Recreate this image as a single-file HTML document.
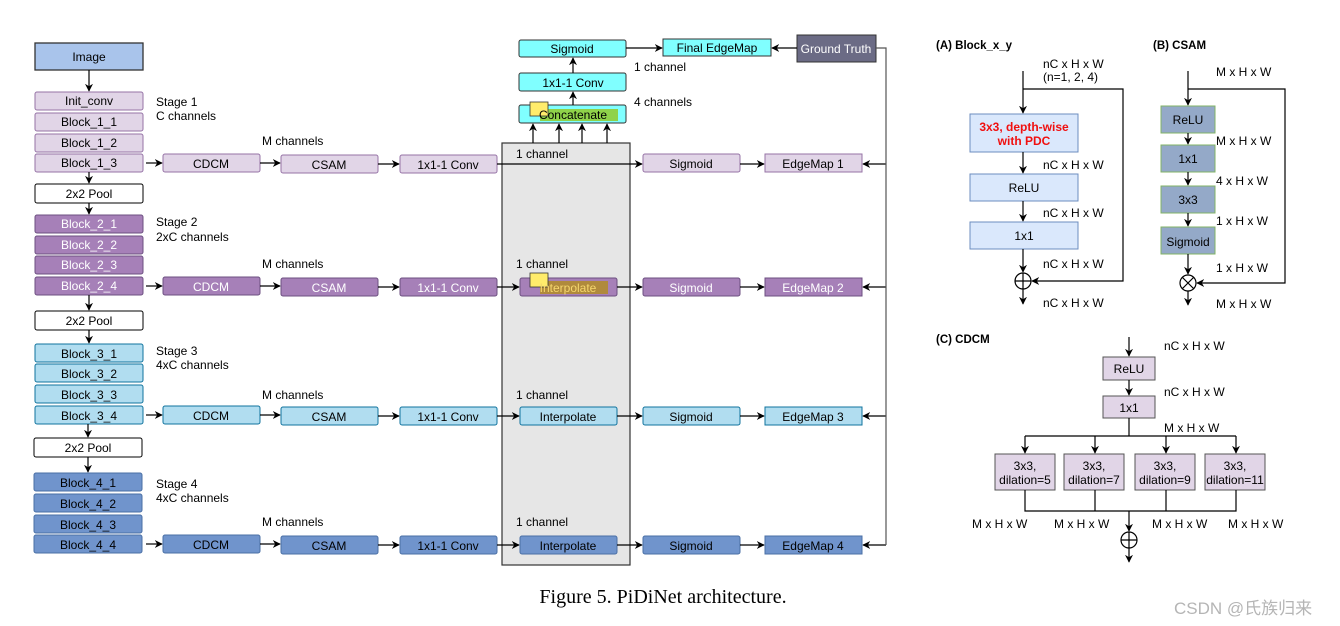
<!DOCTYPE html>
<html><head><meta charset="utf-8"><style>
body{margin:0;background:#fff;}
svg{display:block;font-family:"Liberation Sans",Arial,sans-serif;}
text{font-size:12px;fill:#000;}
.c{text-anchor:middle;}
.w{fill:#fff;}
</style></head><body>
<svg width="1340" height="626" viewBox="0 0 1340 626">
<defs>
<marker id="a" viewBox="0 0 10 10" refX="9" refY="5" markerWidth="8" markerHeight="8" orient="auto-start-reverse" markerUnits="userSpaceOnUse"><path d="M0,0 L10,5 L0,10 L3,5 z" fill="#000"/></marker>
</defs>
<g stroke="#000" stroke-width="1.2" fill="none">
<rect x="502" y="143" width="128" height="422" fill="#e6e6e6" stroke="#333"/>
</g>
<rect x="35" y="43" width="108" height="27" fill="#a9c4eb" stroke="#333" stroke-width="1.3"/>
<text x="89" y="61" class="c">Image</text>
<g stroke="#9673a6" fill="#e1d5e7">
<rect x="35" y="92" width="108" height="18" rx="2"/><rect x="35" y="113" width="108" height="18" rx="2"/><rect x="35" y="134" width="108" height="18" rx="2"/><rect x="35" y="154" width="108" height="18" rx="2"/>
<rect x="163" y="154" width="97" height="18" rx="2"/><rect x="281" y="155" width="97" height="18" rx="2"/><rect x="400" y="155" width="97" height="18" rx="2"/><rect x="643" y="154" width="97" height="18" rx="2"/><rect x="765" y="154" width="97" height="18"/>
</g>
<g stroke="#6c4f80" fill="#a680b8">
<rect x="35" y="215" width="108" height="18" rx="2"/><rect x="35" y="236" width="108" height="18" rx="2"/><rect x="35" y="256" width="108" height="18" rx="2"/><rect x="35" y="277" width="108" height="18" rx="2"/>
<rect x="163" y="277" width="97" height="18" rx="2"/><rect x="281" y="278" width="97" height="18" rx="2"/><rect x="400" y="278" width="97" height="18" rx="2"/><rect x="520" y="278" width="97" height="18" rx="2"/><rect x="643" y="278" width="97" height="18" rx="2"/><rect x="765" y="278" width="97" height="18"/>
</g>
<g stroke="#10739e" fill="#b1ddf0">
<rect x="35" y="344" width="108" height="18" rx="2"/><rect x="35" y="364" width="108" height="18" rx="2"/><rect x="35" y="385" width="108" height="18" rx="2"/><rect x="35" y="406" width="108" height="18" rx="2"/>
<rect x="163" y="406" width="97" height="18" rx="2"/><rect x="281" y="407" width="97" height="18" rx="2"/><rect x="400" y="407" width="97" height="18" rx="2"/><rect x="520" y="407" width="97" height="18" rx="2"/><rect x="643" y="407" width="97" height="18" rx="2"/><rect x="765" y="407" width="97" height="18"/>
</g>
<g stroke="#4a6fa5" fill="#7094cc">
<rect x="34" y="473" width="108" height="18" rx="2"/><rect x="34" y="494" width="108" height="18" rx="2"/><rect x="34" y="515" width="108" height="18" rx="2"/><rect x="34" y="535" width="108" height="18" rx="2"/>
<rect x="163" y="535" width="97" height="18" rx="2"/><rect x="281" y="536" width="97" height="18" rx="2"/><rect x="400" y="536" width="97" height="18" rx="2"/><rect x="520" y="536" width="97" height="18" rx="2"/><rect x="643" y="536" width="97" height="18" rx="2"/><rect x="765" y="536" width="97" height="18"/>
</g>
<g stroke="#000" fill="#fff">
<rect x="35" y="184" width="108" height="19" rx="2"/><rect x="35" y="311" width="108" height="19" rx="2"/><rect x="34" y="438" width="108" height="19" rx="2"/>
</g>
<g stroke="#333" fill="#80ffff">
<rect x="519" y="40" width="107" height="17" rx="2"/><rect x="519" y="73" width="107" height="18" rx="2"/><rect x="519" y="105" width="107" height="18" rx="2"/><rect x="663" y="39" width="108" height="17"/>
</g>
<rect x="540" y="109" width="78" height="12" fill="#8fd24a"/>
<rect x="530" y="102" width="18" height="14" fill="#ffec6b" stroke="#333" stroke-width=".8"/>
<rect x="540" y="281" width="68" height="13" fill="#b08a3c"/>
<rect x="530" y="273" width="18" height="14" fill="#ffec6b" stroke="#333" stroke-width=".8"/>
<rect x="797" y="35" width="79" height="27" fill="#6b6b85" stroke="#333"/>
<g stroke="#000" stroke-width="1.2" fill="none" marker-end="url(#a)">
<path d="M89 70V91"/><path d="M89 172V183"/><path d="M89 203V214"/><path d="M89 295V310"/><path d="M89 330V343"/><path d="M88 424V437"/><path d="M88 457V472"/>
<path d="M146 163H162"/><path d="M260 163H280"/><path d="M378 164H399"/><path d="M497 164H642"/><path d="M740 164H764"/>
<path d="M146 286H162"/><path d="M260 286H280"/><path d="M378 287H399"/><path d="M497 287H519"/><path d="M617 287H642"/><path d="M740 287H764"/>
<path d="M146 415H162"/><path d="M260 415H280"/><path d="M378 416H399"/><path d="M497 416H519"/><path d="M617 416H642"/><path d="M740 416H764"/>
<path d="M146 544H162"/><path d="M260 544H280"/><path d="M378 545H399"/><path d="M497 545H519"/><path d="M617 545H642"/><path d="M740 545H764"/>
<path d="M533 143V124"/><path d="M559 143V124"/><path d="M582 143V124"/><path d="M607 143V124"/>
<path d="M573 105V92"/><path d="M573 73V58"/><path d="M626 48H662"/><path d="M797 48H772"/>
<path d="M886 164H863"/><path d="M886 287H863"/><path d="M886 416H863"/><path d="M886 545H863"/>
</g>
<path d="M876 48H886V545" stroke="#555" stroke-width="1.2" fill="none"/>
<g class="c">
<text x="89" y="105" class="c">Init_conv</text><text x="89" y="126" class="c">Block_1_1</text><text x="89" y="147" class="c">Block_1_2</text><text x="89" y="167" class="c">Block_1_3</text>
<text x="89" y="198" class="c">2x2 Pool</text>
<text x="89" y="228" class="c w">Block_2_1</text><text x="89" y="249" class="c w">Block_2_2</text><text x="89" y="269" class="c w">Block_2_3</text><text x="89" y="290" class="c w">Block_2_4</text>
<text x="89" y="325" class="c">2x2 Pool</text>
<text x="89" y="358" class="c">Block_3_1</text><text x="89" y="378" class="c">Block_3_2</text><text x="89" y="399" class="c">Block_3_3</text><text x="89" y="420" class="c">Block_3_4</text>
<text x="88" y="452" class="c">2x2 Pool</text>
<text x="88" y="487" class="c">Block_4_1</text><text x="88" y="508" class="c">Block_4_2</text><text x="88" y="529" class="c">Block_4_3</text><text x="88" y="549" class="c">Block_4_4</text>
</g>
<text x="156" y="106">Stage 1</text><text x="156" y="120">C channels</text>
<text x="156" y="226">Stage 2</text><text x="156" y="241">2xC channels</text>
<text x="156" y="355">Stage 3</text><text x="156" y="369">4xC channels</text>
<text x="156" y="488">Stage 4</text><text x="156" y="502">4xC channels</text>
<text x="262" y="145">M channels</text><text x="262" y="268">M channels</text><text x="262" y="399">M channels</text><text x="262" y="526">M channels</text>
<text x="516" y="158">1 channel</text><text x="516" y="268">1 channel</text><text x="516" y="399">1 channel</text><text x="516" y="526">1 channel</text>
<text x="634" y="71">1 channel</text><text x="634" y="106">4 channels</text>
<text x="211" y="168" class="c">CDCM</text><text x="329" y="169" class="c">CSAM</text><text x="448" y="169" class="c">1x1-1 Conv</text><text x="691" y="168" class="c">Sigmoid</text><text x="813" y="168" class="c">EdgeMap 1</text>
<text x="211" y="291" class="c w">CDCM</text><text x="329" y="292" class="c w">CSAM</text><text x="448" y="292" class="c w">1x1-1 Conv</text><text x="568" y="292" class="c" style="fill:#f5d76e">Interpolate</text><text x="691" y="292" class="c w">Sigmoid</text><text x="813" y="292" class="c w">EdgeMap 2</text>
<text x="211" y="420" class="c">CDCM</text><text x="329" y="421" class="c">CSAM</text><text x="448" y="421" class="c">1x1-1 Conv</text><text x="568" y="421" class="c">Interpolate</text><text x="691" y="421" class="c">Sigmoid</text><text x="813" y="421" class="c">EdgeMap 3</text>
<text x="211" y="549" class="c">CDCM</text><text x="329" y="550" class="c">CSAM</text><text x="448" y="550" class="c">1x1-1 Conv</text><text x="568" y="550" class="c">Interpolate</text><text x="691" y="550" class="c">Sigmoid</text><text x="813" y="550" class="c">EdgeMap 4</text>
<text x="572" y="53" class="c">Sigmoid</text><text x="573" y="87" class="c">1x1-1 Conv</text><text x="573" y="119" class="c">Concatenate</text>
<text x="717" y="52" class="c">Final EdgeMap</text><text x="836" y="53" class="c w">Ground Truth</text>

<text x="936" y="49" style="font-weight:bold;font-size:11.5px">(A) Block_x_y</text>
<g stroke="#6c8ebf" fill="#dae8fc"><rect x="970" y="114" width="108" height="38"/><rect x="970" y="174" width="108" height="27"/><rect x="970" y="222" width="108" height="27"/></g>
<text x="1024" y="131" class="c" style="fill:#f01010;font-weight:bold">3x3, depth-wise</text>
<text x="1024" y="145" class="c" style="fill:#f01010;font-weight:bold">with PDC</text>
<text x="1024" y="192" class="c">ReLU</text><text x="1024" y="240" class="c">1x1</text>
<g stroke="#000" stroke-width="1.2" fill="none">
<circle cx="1023" cy="281" r="8"/><path d="M1015 281H1031M1023 273V289"/>
<path d="M1023 71V113" marker-end="url(#a)"/><path d="M1023 152V173" marker-end="url(#a)"/><path d="M1023 201V221" marker-end="url(#a)"/><path d="M1023 249V272" marker-end="url(#a)"/><path d="M1023 289V304" marker-end="url(#a)"/>
<path d="M1023 89H1123V281H1032" marker-end="url(#a)"/>
</g>
<text x="1043" y="68">nC x H x W</text><text x="1043" y="81">(n=1, 2, 4)</text>
<text x="1043" y="169">nC x H x W</text><text x="1043" y="217">nC x H x W</text><text x="1043" y="268">nC x H x W</text><text x="1043" y="307">nC x H x W</text>
<text x="1153" y="49" style="font-weight:bold;font-size:11.5px">(B) CSAM</text>
<g stroke="#82b366" fill="#94a9c8"><rect x="1161" y="106" width="54" height="27"/><rect x="1161" y="145" width="54" height="27"/><rect x="1161" y="186" width="54" height="27"/><rect x="1161" y="227" width="54" height="27"/></g>
<text x="1188" y="124" class="c">ReLU</text><text x="1188" y="163" class="c">1x1</text><text x="1188" y="204" class="c">3x3</text><text x="1188" y="246" class="c">Sigmoid</text>
<g stroke="#000" stroke-width="1.2" fill="none">
<circle cx="1188" cy="283" r="8"/><path d="M1182 277L1194 289M1194 277L1182 289"/>
<path d="M1188 71V105" marker-end="url(#a)"/><path d="M1188 133V144" marker-end="url(#a)"/><path d="M1188 172V185" marker-end="url(#a)"/><path d="M1188 213V226" marker-end="url(#a)"/><path d="M1188 254V274" marker-end="url(#a)"/><path d="M1188 291V305" marker-end="url(#a)"/>
<path d="M1188 89H1285V283H1197" marker-end="url(#a)"/>
</g>
<text x="1216" y="76">M x H x W</text><text x="1216" y="145">M x H x W</text><text x="1216" y="185">4 x H x W</text><text x="1216" y="225">1 x H x W</text><text x="1216" y="272">1 x H x W</text><text x="1216" y="308">M x H x W</text>
<text x="936" y="343" style="font-weight:bold;font-size:11.5px">(C) CDCM</text>
<g stroke="#555" fill="#e1d5e7"><rect x="1103" y="357" width="52" height="23"/><rect x="1103" y="396" width="52" height="22"/>
<rect x="995" y="454" width="60" height="36"/><rect x="1064" y="454" width="60" height="36"/><rect x="1135" y="454" width="60" height="36"/><rect x="1205" y="454" width="60" height="36"/></g>
<text x="1129" y="373" class="c">ReLU</text><text x="1129" y="412" class="c">1x1</text>
<text x="1025" y="470" class="c">3x3,</text><text x="1025" y="484" class="c">dilation=5</text>
<text x="1094" y="470" class="c">3x3,</text><text x="1094" y="484" class="c">dilation=7</text>
<text x="1165" y="470" class="c">3x3,</text><text x="1165" y="484" class="c">dilation=9</text>
<text x="1235" y="470" class="c">3x3,</text><text x="1235" y="484" class="c">dilation=11</text>
<g stroke="#000" stroke-width="1.2" fill="none">
<path d="M1129 337V356" marker-end="url(#a)"/><path d="M1129 380V395" marker-end="url(#a)"/>
<path d="M1129 418V436M1025 436H1236"/>
<path d="M1025 436V453" marker-end="url(#a)"/><path d="M1095 436V453" marker-end="url(#a)"/><path d="M1166 436V453" marker-end="url(#a)"/><path d="M1236 436V453" marker-end="url(#a)"/>
<path d="M1025 490V511H1236V490M1095 490V511M1166 490V511"/>
<path d="M1129 511V531" marker-end="url(#a)"/>
<circle cx="1129" cy="540" r="8"/><path d="M1121 540H1137M1129 532V548"/>
<path d="M1129 548V562" marker-end="url(#a)"/>
</g>
<text x="1164" y="350">nC x H x W</text><text x="1164" y="396">nC x H x W</text><text x="1164" y="432">M x H x W</text>
<text x="972" y="528">M x H x W</text><text x="1054" y="528">M x H x W</text><text x="1152" y="528">M x H x W</text><text x="1228" y="528">M x H x W</text>
<text x="663" y="603" class="c" style="font-family:'Liberation Serif',serif;font-size:20px">Figure 5. PiDiNet architecture.</text>
<text x="1174" y="614" style="font-family:'Liberation Sans','Noto Sans CJK SC',sans-serif;font-size:17px;fill:#b5b5b5">CSDN @氏族归来</text>
</svg>
</body></html>
